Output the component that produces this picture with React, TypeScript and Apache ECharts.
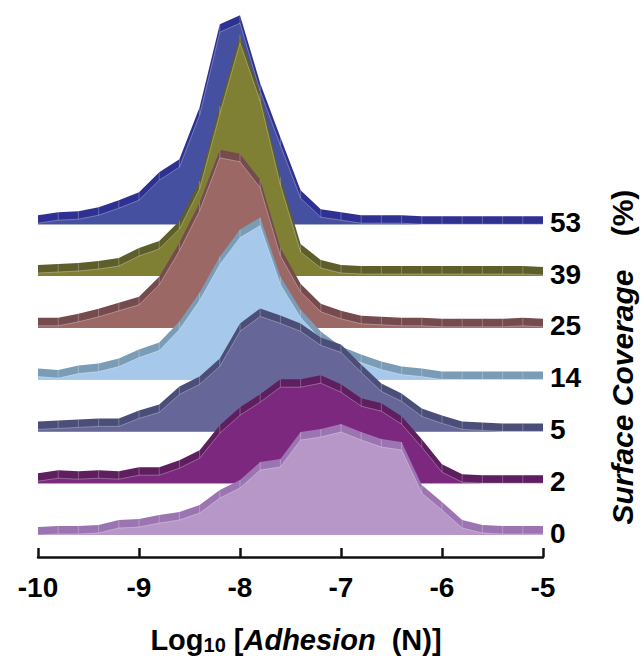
import React, { useEffect, useRef } from "react";
import * as echarts from "echarts";

// x positions: log10 of adhesion force (N)
const X_VALUES = [-10, -9.8, -9.6, -9.4, -9.2, -9, -8.8, -8.6, -8.4, -8.2, -8, -7.8, -7.6, -7.4, -7.2, -7, -6.8, -6.6, -6.4, -6.2, -6, -5.8, -5.6, -5.4, -5.2, -5];
const X_TICKS = [-10, -9, -8, -7, -6, -5];

// surface coverage (%) of each ridge, front to back
const COVERAGE_LABELS = ["0", "2", "5", "14", "25", "39", "53"];

// relative frequency for each coverage
const COV_0 = [0, 1, 1, 2, 7, 8, 12, 15, 22, 37, 47, 65, 68, 95, 98, 103, 95, 88, 85, 42, 25, 7, 2, 1, 1, 1];
const COV_2 = [2, 5, 4, 5, 4, 8, 8, 15, 25, 50, 68, 81, 96, 96, 100, 91, 77, 72, 59, 36, 11, 1, 0, 0, 0, 0];
const COV_5 = [2, 3, 4, 5, 5, 13, 19, 37, 47, 65, 100, 115, 108, 100, 86, 79, 59, 40, 30, 15, 8, 2, 1, 0, 0, 0];
const COV_14 = [3, 1.5, 6, 8, 13, 22, 29, 50, 79, 115, 142, 154, 95, 62, 40, 25, 17, 10, 5, 3, 0, 0, 0, 0, 0, 0];
const COV_25 = [2, 2, 6, 11, 17, 23, 43, 77, 117, 170, 166, 140, 72, 36, 16, 9, 4, 3, 2, 2, 1, 1, 1, 1, 2, 1];
const COV_39 = [3, 4, 5, 7, 10, 20, 27, 47, 87, 162, 233, 175, 91, 24, 8, 3, 2, 2, 2, 2, 2, 2, 2, 2, 2, 1];
const COV_53 = [1, 4, 5, 9, 16, 24, 44, 57, 109, 192, 201, 133, 79, 26, 7, 4, 1, 1, 1, 0, 0, 0, 0, 0, 0, 0];

const SERIES_VALUES = [COV_0, COV_2, COV_5, COV_14, COV_25, COV_39, COV_53];

const FILL_COLORS = ["#B697C8", "#7B287E", "#666698", "#A6C8EA", "#9C6866", "#808034", "#4650A0"];
const BAND_COLORS = ["#9C74B2", "#5F1E5F", "#4B4E78", "#7B9CB6", "#754B4E", "#5E5E2A", "#2E3192"];

// layout (style) constants
const FONT = '"Liberation Sans", Arial, Helvetica, sans-serif';
const FIRST_BASE = 22; // y-units above the axis for the front ridge
const RIDGE_GAP = 51.8; // y-units between ridge baselines
const BAND = 8; // px thickness of the top face
const Y_MAX = 557;

export default function App() {
  const ref = useRef<HTMLDivElement>(null);

  useEffect(() => {
    if (!ref.current) return;
    const chart = echarts.init(ref.current, null, { renderer: "svg" });

    const makeRender = (k: number) => (params: any, api: any) => {
      if (params.dataIndex !== 0) return null;
      const vals = SERIES_VALUES[k];
      const off = FIRST_BASE + RIDGE_GAP * k;
      const top = X_VALUES.map((x, i) => api.coord([x, off + vals[i]]));
      const base = X_VALUES.map((x) => api.coord([x, off]));
      const bandTop = top.map((p: number[]) => [p[0], p[1] - BAND]);
      const baseRev = base.slice().reverse();
      const children: any[] = [
        { type: "polygon", shape: { points: bandTop.concat(baseRev) }, style: { fill: BAND_COLORS[k] } },
        { type: "polygon", shape: { points: top.concat(baseRev) }, style: { fill: FILL_COLORS[k] } },
        {
          type: "polyline",
          shape: { points: top },
          style: { stroke: "rgba(255,255,255,0.3)", lineWidth: 1, fill: null },
        },
      ];
      for (let i = 1; i < top.length - 1; i++) {
        children.push({
          type: "line",
          shape: { x1: top[i][0], y1: top[i][1], x2: bandTop[i][0], y2: bandTop[i][1] },
          style: { stroke: "rgba(255,255,255,0.25)", lineWidth: 1 },
        });
      }
      const end = base[base.length - 1];
      children.push({
        type: "text",
        style: {
          text: COVERAGE_LABELS[k],
          x: end[0] + 7,
          y: end[1] - 2,
          align: "left",
          verticalAlign: "middle",
          fontSize: 28,
          fontWeight: "bold",
          fontFamily: FONT,
          fill: "#000",
        },
      });
      return { type: "group", children };
    };

    const order = [6, 5, 4, 3, 2, 1, 0];
    const series = order.map((k) => ({
      type: "custom",
      name: COVERAGE_LABELS[k],
      renderItem: makeRender(k),
      clip: false,
      data: X_VALUES.map((x, i) => [x, FIRST_BASE + RIDGE_GAP * k + SERIES_VALUES[k][i]]),
      encode: { x: 0, y: 1 },
      silent: true,
    }));

    chart.setOption({
      animation: false,
      backgroundColor: "#ffffff",
      grid: { left: 38, right: 98, top: 0, bottom: 662 - Y_MAX },
      xAxis: {
        type: "value",
        min: X_TICKS[0],
        max: X_TICKS[X_TICKS.length - 1],
        interval: 1,
        axisLine: { show: true, onZero: false, lineStyle: { color: "#111", width: 2.5 } },
        axisTick: { show: true, inside: true, length: 9, lineStyle: { color: "#111", width: 2.5 } },
        splitLine: { show: false },
        axisLabel: {
          margin: 16,
          fontSize: 28,
          fontWeight: "bold",
          fontFamily: FONT,
          color: "#000",
          formatter: (v: number) => String(v),
        },
      },
      yAxis: {
        type: "value",
        min: 0,
        max: Y_MAX,
        show: false,
      },
      graphic: [
        {
          type: "text",
          x: 296,
          y: 640,
          style: {
            text: "{n|Log}{s|10}{n| [}{i|Adhesion}{n|  (N)]}",
            align: "center",
            verticalAlign: "middle",
            fill: "#000",
            rich: {
              n: { fontSize: 29, fontWeight: "bold", fontFamily: FONT, lineHeight: 30 },
              s: { fontSize: 20, fontWeight: "bold", fontFamily: FONT, lineHeight: 8, verticalAlign: "bottom" },
              i: { fontSize: 29, fontWeight: "bold", fontStyle: "italic", fontFamily: FONT, lineHeight: 30 },
            },
          },
        },
        {
          type: "text",
          x: 622,
          y: 397,
          rotation: Math.PI / 2,
          style: {
            text: "Surface Coverage",
            align: "center",
            verticalAlign: "middle",
            fontSize: 30,
            fontWeight: "bold",
            fontStyle: "italic",
            fontFamily: FONT,
            fill: "#000",
          },
        },
        {
          type: "text",
          x: 622,
          y: 213,
          rotation: Math.PI / 2,
          style: {
            text: "(%)",
            align: "center",
            verticalAlign: "middle",
            fontSize: 30,
            fontWeight: "bold",
            fontFamily: FONT,
            fill: "#000",
          },
        },
      ],
      series,
    });

    return () => chart.dispose();
  }, []);

  return (
    <div
      ref={ref}
      style={{ position: "absolute", left: 0, top: 0, width: 641, height: 662, background: "#fff" }}
    />
  );
}
